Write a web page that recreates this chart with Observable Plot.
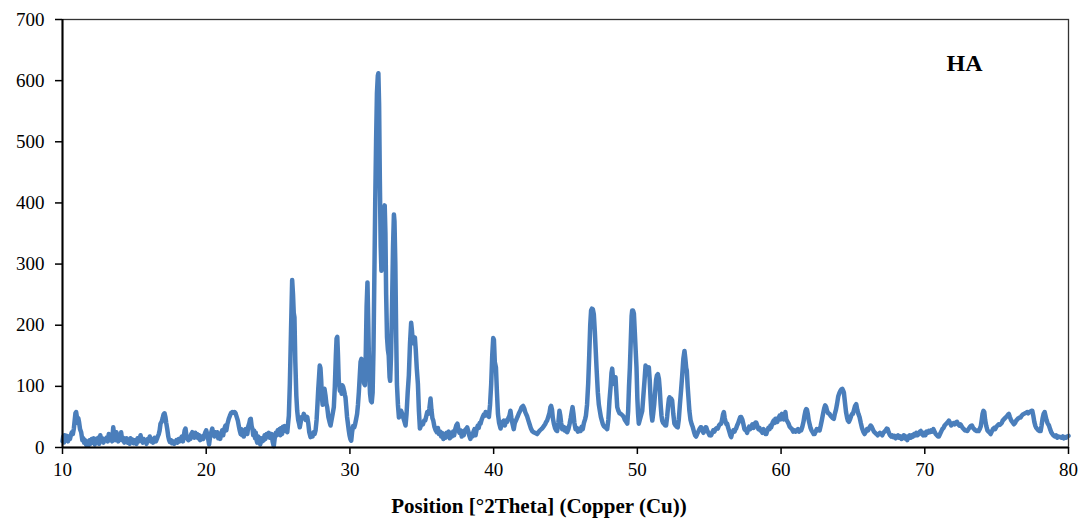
<!DOCTYPE html>
<html><head><meta charset="utf-8">
<script src="https://cdn.jsdelivr.net/npm/d3@7"></script>
<script src="https://cdn.jsdelivr.net/npm/@observablehq/plot@0.6"></script>
<style>
body{margin:0;background:#fff;}
#chart{position:relative;width:1086px;height:525px;}
#xlabel{position:absolute;left:539px;top:494px;transform:translateX(-50%);font:bold 21px "Liberation Serif",serif;white-space:nowrap;color:#000;}
</style>
</head><body><div id="chart"></div>
<script>
const xTicks = [10,20,30,40,50,60,70,80];
const yTicks = [0,100,200,300,400,500,600,700];
const sampleLabel = "HA";
const xTitle = "Position [°2Theta] (Copper (Cu))";

// [2θ, counts]
const lowAngle = [
[10.00,10],[10.05,18],[10.10,8],[10.15,20],[10.22,12],[10.30,19],[10.38,10],[10.45,18],[10.52,14],[10.58,20],
[10.65,25],[10.72,22],[10.79,31],[10.85,45],[10.90,56],[10.95,58],[11.00,50],[11.05,40],[11.10,48],[11.15,42],
[11.22,30],[11.30,25],[11.38,12],[11.45,15],[11.50,8],[11.58,12],[11.65,4],[11.72,10],[11.80,3],[11.88,12],
[11.95,6],[12.03,14],[12.10,8],[12.18,15],[12.25,5],[12.32,14],[12.40,10],[12.48,16],[12.55,6],[12.63,20],
[12.70,12],[12.78,15],[12.85,8],[12.93,14],[13.00,12],[13.08,16],[13.15,10],[13.22,22],[13.30,14],[13.38,18],
[13.45,10],[13.53,33],[13.60,20],[13.68,12],[13.75,25],[13.80,18],[13.88,10],[13.95,20],[14.02,15],[14.08,25],
[14.15,12],[14.22,16],[14.30,8],[14.38,12],[14.45,15],[14.52,8],[14.60,13],[14.67,6],[14.73,15],[14.80,10],
[14.88,13],[14.95,7],[15.02,12],[15.08,12],[15.15,6],[15.22,15],[15.30,10],[15.37,14],[15.43,20],[15.50,12],
[15.58,8],[15.65,14],[15.72,10],[15.78,12],[15.85,6],[15.93,14],[16.00,12],[16.07,18],[16.15,10],[16.22,14],
[16.30,8],[16.35,12],[16.42,16],[16.50,10],[16.57,14],[16.63,18],[16.70,22],[16.76,28],[16.82,39],[16.90,42],
[16.97,48],[17.03,54],[17.10,56],[17.16,50],[17.22,40],[17.29,30],[17.36,18],[17.42,12],[17.47,9],[17.55,12],
[17.62,7],[17.70,10],[17.78,6],[17.86,9],[17.93,12],[18.00,8],[18.08,14],[18.14,10],[18.21,12],[18.30,18],
[18.38,10],[18.45,20],[18.50,28],[18.56,31],[18.62,20],[18.70,14],[18.76,12],[18.82,18],[18.90,14],[18.96,22],
[19.03,25],[19.10,20],[19.17,16],[19.24,24],[19.30,18],[19.37,22],[19.44,15],[19.50,20],[19.58,12],[19.65,18],
[19.72,18],[19.80,14],[19.87,20],[19.94,25],[20.00,28],[20.07,22],[20.13,15],[20.20,5],[20.27,18],[20.35,25],
[20.42,31],[20.50,22],[20.57,18],[20.64,25],[20.70,20],[20.77,25],[20.84,15],[20.90,20],[20.97,14],[21.04,22],
[21.11,28],[21.18,20],[21.25,30],[21.34,36],[21.40,28],[21.47,38],[21.57,47],[21.65,52],[21.72,56],[21.81,58],
[21.90,57],[21.97,58],[22.04,56],[22.12,50],[22.20,44],[22.27,35],[22.33,28],[22.40,22],[22.46,30],[22.50,20],
[22.56,26],[22.62,18],[22.68,24],[22.74,30],[22.80,28],[22.86,22],[22.93,35],[23.00,40],[23.05,46],[23.10,47],
[23.16,35],[23.22,30],[23.27,20],[23.33,28],[23.40,15],[23.45,24],[23.50,12],[23.55,8],[23.62,18],[23.70,14],
[23.76,5],[23.82,15],[23.90,10],[24.00,12],[24.06,20],[24.12,14],[24.20,22],[24.27,18],[24.35,24],[24.42,16],
[24.47,18],[24.55,22],[24.62,10],[24.70,2],[24.76,14],[24.84,24],[24.90,20],[24.97,28],[25.04,24],[25.10,30],
[25.16,20],[25.22,32],[25.28,22],[25.34,34],[25.40,27],[25.46,35],[25.52,28],[25.58,34],[25.64,25],[25.70,40]
];
const mainPeaks = [
[25.75,52],[25.82,104],[25.90,190],[25.98,274],[26.04,250],[26.09,220],[26.14,213],[26.20,140],[26.27,85],[26.33,60],
[26.40,45],[26.47,38],[26.51,33],[26.58,42],[26.65,50],[26.72,48],[26.79,55],[26.86,50],[26.93,45],[27.03,50],
[27.10,40],[27.17,25],[27.26,17],[27.33,22],[27.40,18],[27.47,25],[27.54,22],[27.61,28],[27.68,45],[27.74,70],
[27.79,93],[27.85,115],[27.90,134],[27.95,130],[28.00,110],[28.05,82],[28.10,70],[28.16,88],[28.23,96],[28.30,85],
[28.36,72],[28.42,66],[28.50,50],[28.58,42],[28.65,36],[28.72,45],[28.80,55],[28.88,66],[28.95,100],[29.02,150],
[29.07,178],[29.12,181],[29.17,150],[29.22,110],[29.30,93],[29.36,98],[29.42,88],[29.47,102],[29.53,99],[29.60,92],
[29.65,86],[29.69,82],[29.75,65],[29.80,50],[29.86,39],[29.92,28],[29.97,20],[30.03,14],[30.09,11],[30.15,25],
[30.22,35],[30.30,33],[30.36,38],[30.42,45],[30.50,55],[30.56,70],[30.62,90],[30.68,115],[30.74,140],[30.80,145],
[30.86,142],[30.92,125],[30.98,105],[31.04,102],[31.10,150],[31.16,230],[31.22,270],[31.28,200],[31.34,120],[31.40,88],
[31.46,76],[31.52,74],[31.58,90],[31.64,160],[31.70,280],[31.76,400],[31.82,500],[31.88,580],[31.94,608],[31.98,612],
[32.03,560],[32.08,440],[32.14,330],[32.19,289],[32.25,300],[32.31,340],[32.37,385],[32.42,396],[32.47,350],[32.52,250],
[32.58,180],[32.64,160],[32.70,150],[32.76,115],[32.80,109],[32.86,150],[32.93,230],[33.00,330],[33.06,381],[33.10,370],
[33.16,300],[33.22,180],[33.27,104],[33.34,70],[33.41,49],[33.48,52],[33.56,60],[33.64,55],[33.72,48],[33.80,42],
[33.87,36],[33.94,55],[34.02,90],[34.10,118],[34.18,170],[34.26,204],[34.32,190],[34.38,172],[34.45,170],[34.52,180],
[34.58,160],[34.65,130],[34.73,104],[34.80,60],[34.87,31],[34.94,36],[35.00,40],[35.08,38],[35.16,44],[35.24,44],
[35.32,52],[35.38,58],[35.46,55],[35.53,64],[35.61,80],[35.67,62],[35.74,48],[35.80,44],[35.88,34],[35.97,28]
];
const midAngle = [
[36.05,25],[36.12,32],[36.20,22],[36.28,26],[36.35,18],[36.42,24],[36.50,14],[36.58,22],[36.65,16],[36.73,24],
[36.80,18],[36.88,26],[36.95,15],[37.03,22],[37.10,18],[37.18,26],[37.25,20],[37.33,30],[37.40,36],[37.48,39],
[37.55,30],[37.62,24],[37.70,28],[37.78,18],[37.85,26],[37.92,20],[38.00,28],[38.08,30],[38.16,33],[38.24,26],
[38.30,20],[38.38,14],[38.45,22],[38.52,18],[38.60,26],[38.67,30],[38.74,20],[38.82,30],[38.90,36],[38.96,32],
[39.03,40],[39.09,39],[39.16,45],[39.24,50],[39.32,54],[39.40,52],[39.44,58],[39.52,56],[39.60,52],[39.67,50],
[39.75,70],[39.83,104],[39.90,150],[39.97,179],[40.02,176],[40.08,140],[40.16,131],[40.23,90],[40.30,55],[40.38,40],
[40.48,31],[40.56,38],[40.63,42],[40.71,44],[40.78,36],[40.86,44],[40.94,42],[41.02,48],[41.10,52],[41.17,60],
[41.24,48],[41.32,38],[41.40,30],[41.47,40],[41.55,44],[41.62,48],[41.68,51],[41.76,56],[41.85,60],[41.95,66],
[42.05,68],[42.13,64],[42.20,58],[42.27,54],[42.33,51],[42.42,44],[42.50,38],[42.58,32],[42.68,27],[42.78,25],
[42.88,24],[42.96,23],[43.03,22],[43.12,25],[43.22,28],[43.32,30],[43.40,32],[43.49,35],[43.58,38],[43.66,42],
[43.72,44],[43.80,50],[43.88,56],[43.95,66],[44.00,68],[44.06,62],[44.12,48],[44.19,39],[44.27,32],[44.35,28],
[44.42,27],[44.50,40],[44.58,60],[44.64,52],[44.70,40],[44.77,30],[44.85,34],[44.93,28],[45.00,32],[45.06,26],
[45.12,25],[45.20,30],[45.28,38],[45.36,48],[45.43,58],[45.49,66],[45.55,56],[45.62,40],[45.70,30],[45.78,32],
[45.86,26],[45.95,30],[46.05,27],[46.12,34],[46.20,30],[46.28,40],[46.36,46],[46.42,52],[46.50,70],[46.58,105],
[46.65,150],[46.72,200],[46.78,224],[46.84,227],[46.90,226],[46.97,218],[47.04,190],[47.10,160],[47.16,130],[47.25,90],
[47.32,70],[47.39,60],[47.46,50],[47.53,44],[47.60,38],[47.67,35],[47.75,33],[47.82,32],[47.90,30],[47.98,45],
[48.06,77],[48.14,100],[48.20,122],[48.25,129],[48.31,112],[48.37,104],[48.43,110],[48.48,115],[48.54,90],[48.60,66],
[48.68,60],[48.76,56],[48.85,55],[48.95,53],[49.05,50],[49.13,45],[49.22,42],[49.30,39],[49.36,60],[49.42,100],
[49.48,131],[49.55,180],[49.60,215],[49.64,224],[49.70,224],[49.76,219],[49.82,190],[49.88,160],[49.94,131],[50.00,80],
[50.05,55],[50.10,39],[50.17,45],[50.25,52],[50.34,60],[50.42,85],[50.50,110],[50.57,134],[50.63,130],[50.69,120],
[50.75,128],[50.80,131],[50.86,110],[50.92,80],[50.98,55],[51.04,44],[51.10,55],[51.17,70],[51.23,88],[51.30,110],
[51.36,118],[51.43,120],[51.50,112],[51.56,95],[51.62,70],[51.68,52],[51.73,44],[51.80,40],[51.88,38],[51.95,36],
[52.00,36],[52.07,50],[52.14,68],[52.20,80],[52.24,82],[52.30,76],[52.36,80],[52.42,77],[52.50,55],[52.58,39],
[52.66,36],[52.74,34],[52.81,33],[52.88,45],[52.96,70],[53.04,93],[53.12,118],[53.20,145],[53.28,158],[53.34,145],
[53.40,130],[53.44,126],[53.50,100],[53.56,80],[53.62,60],[53.70,45],[53.78,38],[53.86,33],[53.95,25],[54.02,20]
];
const highAngle = [
[54.09,18],[54.16,22],[54.24,26],[54.32,30],[54.40,33],[54.44,33],[54.52,28],[54.60,24],[54.68,30],[54.75,33],
[54.79,33],[54.86,28],[54.94,24],[55.02,20],[55.08,22],[55.13,20],[55.20,24],[55.28,28],[55.36,26],[55.44,30],
[55.52,32],[55.60,31],[55.68,36],[55.75,38],[55.83,39],[55.90,46],[55.96,54],[56.02,58],[56.08,48],[56.14,42],
[56.20,38],[56.25,39],[56.32,32],[56.40,26],[56.47,20],[56.53,17],[56.60,24],[56.68,28],[56.76,26],[56.83,30],
[56.87,31],[56.94,36],[57.02,40],[57.10,46],[57.16,50],[57.22,50],[57.30,46],[57.38,38],[57.45,30],[57.52,28],
[57.57,28],[57.64,24],[57.70,30],[57.78,34],[57.85,30],[57.92,33],[58.00,38],[58.08,32],[58.16,36],[58.22,41],
[58.27,41],[58.34,36],[58.42,30],[58.50,32],[58.56,28],[58.62,28],[58.70,24],[58.78,30],[58.86,26],[58.92,22],
[58.97,22],[59.05,28],[59.12,32],[59.20,30],[59.26,36],[59.31,33],[59.40,40],[59.48,44],[59.55,40],[59.60,47],
[59.66,47],[59.74,42],[59.82,48],[59.90,52],[59.98,46],[60.06,55],[60.12,50],[60.18,46],[60.24,50],[60.30,58],
[60.36,46],[60.45,42],[60.52,39],[60.60,34],[60.68,32],[60.76,30],[60.85,26],[60.94,28],[61.02,26],[61.10,28],
[61.18,30],[61.25,26],[61.32,28],[61.40,28],[61.48,34],[61.56,42],[61.63,52],[61.70,60],[61.75,63],[61.80,62],
[61.86,55],[61.92,45],[61.98,39],[62.05,32],[62.12,28],[62.20,25],[62.27,22],[62.33,22],[62.40,26],[62.48,30],
[62.55,28],[62.62,30],[62.68,28],[62.76,36],[62.84,45],[62.92,55],[63.00,64],[63.07,69],[63.14,66],[63.20,60],
[63.28,56],[63.37,55],[63.44,52],[63.52,50],[63.60,48],[63.67,47],[63.74,55],[63.82,62],[63.90,72],[63.98,84],
[64.07,90],[64.14,93],[64.20,95],[64.26,96],[64.32,93],[64.37,90],[64.44,75],[64.52,58],[64.60,48],[64.65,44],
[64.72,42],[64.80,46],[64.88,52],[64.95,55],[65.00,55],[65.08,62],[65.15,68],[65.23,71],[65.30,62],[65.38,55],
[65.46,50],[65.55,40],[65.63,32],[65.72,26],[65.81,22],[65.90,26],[65.98,30],[66.06,28],[66.16,33],[66.23,36],
[66.30,34],[66.38,30],[66.46,26],[66.55,24],[66.64,22],[66.72,20],[66.80,22],[66.88,24],[66.96,22],[67.04,20],
[67.12,24],[67.20,26],[67.28,28],[67.36,31],[67.42,30],[67.50,24],[67.58,20],[67.66,18],[67.74,20],[67.82,17],
[67.90,19],[67.98,15],[68.06,18],[68.14,20],[68.22,16],[68.30,18],[68.38,14],[68.46,17],[68.54,20],[68.62,15],
[68.70,18],[68.78,12],[68.86,18],[68.94,20],[69.02,16],[69.10,20],[69.18,18],[69.26,22],[69.34,20],[69.42,24],
[69.50,20],[69.58,22],[69.66,26],[69.72,27],[69.80,22],[69.88,20],[69.96,24],[70.04,20],[70.12,26],[70.20,24],
[70.28,27],[70.36,25],[70.44,28],[70.52,26],[70.60,30],[70.68,26],[70.76,22],[70.84,20],[70.92,18],[70.98,18],
[71.06,22],[71.14,26],[71.22,30],[71.30,32],[71.38,36],[71.46,38],[71.54,40],[71.62,42],[71.68,44],[71.76,40],
[71.84,36],[71.92,38],[72.00,40],[72.08,38],[72.16,41],[72.24,42],[72.32,38],[72.40,36],[72.48,38],[72.56,35],
[72.64,32],[72.72,30],[72.80,28],[72.88,28],[72.96,27],[73.04,30],[73.12,33],[73.20,35],[73.28,36],[73.36,32],
[73.44,30],[73.52,28],[73.60,27],[73.68,28],[73.75,27],[73.82,30],[73.90,35],[73.96,45],[74.02,55],[74.08,60],
[74.14,58],[74.20,45],[74.28,35],[74.36,28],[74.44,26],[74.52,24],[74.58,22],[74.66,26],[74.74,30],[74.82,32],
[74.90,30],[74.98,34],[75.06,36],[75.14,38],[75.22,37],[75.27,38],[75.35,40],[75.42,44],[75.50,46],[75.58,48],
[75.66,50],[75.74,52],[75.80,54],[75.85,55],[75.92,50],[76.00,45],[76.08,42],[76.14,40],[76.20,38],[76.28,40],
[76.36,44],[76.44,46],[76.52,48],[76.60,49],[76.67,49],[76.74,52],[76.82,54],[76.90,55],[76.98,56],[77.06,57],
[77.13,58],[77.20,56],[77.28,58],[77.36,59],[77.42,60],[77.48,60],[77.55,52],[77.62,42],[77.70,35],[77.76,32],
[77.83,30],[77.90,28],[77.98,27],[78.06,27],[78.12,35],[78.20,48],[78.27,55],[78.34,58],[78.40,52],[78.47,45],
[78.54,40],[78.64,36],[78.72,30],[78.80,25],[78.88,22],[78.94,20],[78.99,19],[79.06,18],[79.14,20],[79.22,16],
[79.30,18],[79.38,17],[79.45,17],[79.52,16],[79.60,18],[79.68,15],[79.76,17],[79.84,16],[79.92,18],[80.00,19]
];

const scan = [...lowAngle, ...mainPeaks, ...midAngle, ...highAngle].map(([t, c]) => ({t, c}));

const chart = Plot.plot({
  width: 1086,
  height: 486,
  marginLeft: 62,
  marginRight: 18,
  marginTop: 19,
  marginBottom: 39,
  style: {fontFamily: "'Liberation Serif', serif", fontSize: "19px", color: "#000", background: "#fff"},
  x: {domain: [10, 80]},
  y: {domain: [0, 700]},
  marks: [
    Plot.line(scan, {x: "t", y: "c", stroke: "#4a7ebb", strokeWidth: 4.5, strokeLinejoin: "round", strokeLinecap: "round"}),
    Plot.frame({stroke: "#333", strokeWidth: 1.3}),
    Plot.ruleX([10], {stroke: "#000", strokeWidth: 2}),
    Plot.ruleY([0], {stroke: "#000", strokeWidth: 2}),
    Plot.axisY({ticks: yTicks, tickSize: 7, tickPadding: 11, label: null, strokeWidth: 1.5, fontSize: 19}),
    Plot.axisX({ticks: xTicks, tickSize: 7, tickPadding: 8, label: null, strokeWidth: 1.5, fontSize: 19}),
    Plot.text([sampleLabel], {frameAnchor: "top-right", dx: -104, dy: 44, textAnchor: "middle", lineAnchor: "middle", fontSize: 24, fontWeight: "bold", fill: "#000"})
  ]
});
const host = document.getElementById("chart");
host.appendChild(chart);
const lab = document.createElement("div");
lab.id = "xlabel";
lab.textContent = xTitle;
host.appendChild(lab);
</script></body></html>
